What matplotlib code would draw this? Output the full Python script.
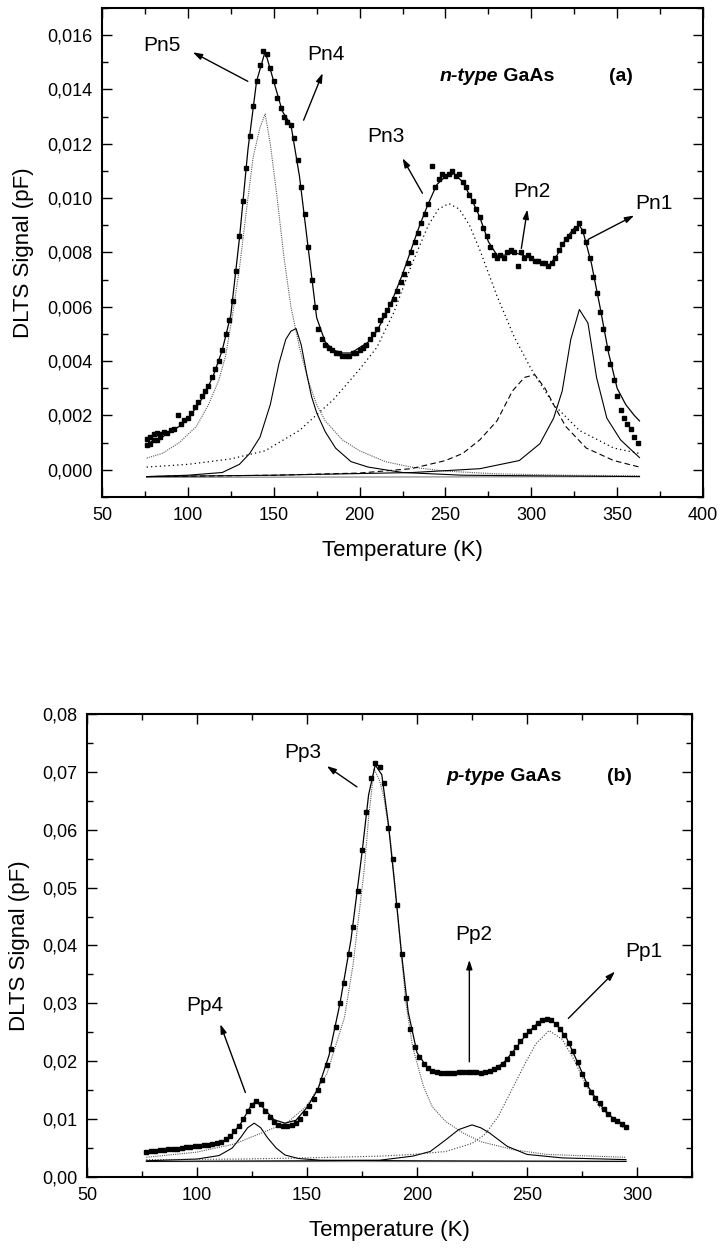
import numpy as np
import matplotlib
matplotlib.use("Agg")
import matplotlib.pyplot as plt
from matplotlib.ticker import MultipleLocator, FuncFormatter

plt.rcParams['font.family'] = ['Liberation Sans', 'DejaVu Sans']

# ---------------- (a) n-type GaAs ----------------
# measured DLTS spectrum (squares)
t_n = [76, 78, 80, 82, 84, 86, 88, 90, 92, 94, 96, 98, 100, 102, 104, 106, 108, 110,
       112, 114, 116, 118, 120, 122, 124, 126, 128, 130, 132, 134, 136, 138, 140, 142,
       144, 146, 148, 150, 152, 154, 156, 158, 160, 162, 164, 166, 168, 170, 172, 174,
       176, 178, 180, 182, 184, 186, 188, 190, 192, 194, 196, 198, 200, 202, 204, 206,
       208, 210, 212, 214, 216, 218, 220, 222, 224, 226, 228, 230, 232, 234, 236, 238,
       240, 242, 244, 246, 248, 250, 252, 254, 256, 258, 260, 262, 264, 266, 268, 270,
       272, 274, 276, 278, 280, 282, 284, 286, 288, 290, 292, 294, 296, 298, 300, 302,
       304, 306, 308, 310, 312, 314, 316, 318, 320, 322, 324, 326, 328, 330, 332, 334,
       336, 338, 340, 342, 344, 346, 348, 350, 352, 354, 356, 358, 360, 362]
s_n = [0.00115, 0.0012, 0.0013, 0.00135, 0.0013, 0.0014, 0.00135, 0.00145, 0.0015, 0.0020,
       0.0017, 0.00185, 0.0019, 0.0021, 0.0023, 0.0025, 0.0027, 0.0029, 0.0031, 0.0034,
       0.0037, 0.0040, 0.0044, 0.0050, 0.0055, 0.0062, 0.0073, 0.0086, 0.0099, 0.0111,
       0.0123, 0.0134, 0.0143, 0.0149, 0.0154, 0.0153, 0.0148, 0.0143, 0.0137, 0.0133,
       0.0130, 0.0128, 0.0127, 0.0122, 0.0114, 0.0104, 0.0094, 0.0082, 0.0070, 0.0060,
       0.0052, 0.0048, 0.0046, 0.0045, 0.0044, 0.0043, 0.0043, 0.0042, 0.0042, 0.0042,
       0.0043, 0.0043, 0.0044, 0.0045, 0.0046, 0.0048, 0.0050, 0.0052, 0.0055, 0.0057,
       0.0059, 0.0061, 0.0063, 0.0066, 0.0069, 0.0072, 0.0076, 0.0080, 0.0084, 0.0087,
       0.0091, 0.0094, 0.0098, 0.0112, 0.0104, 0.0107, 0.0109, 0.0108, 0.0109, 0.0110,
       0.0108, 0.0109, 0.0106, 0.0104, 0.0101, 0.0099, 0.0096, 0.0093, 0.0089, 0.0086,
       0.0082, 0.0079, 0.0078, 0.0079, 0.0078, 0.0080, 0.0081, 0.0080, 0.0075, 0.0080,
       0.0078, 0.0079, 0.0078, 0.0077, 0.0077, 0.0076, 0.0076, 0.0075, 0.0076, 0.0078,
       0.0081, 0.0083, 0.0085, 0.0086, 0.0088, 0.0089, 0.0091, 0.0088, 0.0084, 0.0078,
       0.0071, 0.0065, 0.0058, 0.0052, 0.0045, 0.0039, 0.0033, 0.0027, 0.0022, 0.0019,
       0.0017, 0.0015, 0.0012, 0.0010]
# second scan at low temperature (lower row of points)
t_n2 = [76, 78, 80, 82, 84]
s_n2 = [0.0009, 0.00095, 0.0011, 0.0011, 0.0012]

# total fit
t_nfit = [76, 80, 85, 90, 95, 100, 105, 110, 115, 120, 125, 130, 135, 140, 145, 150, 155,
          160, 165, 170, 175, 180, 185, 190, 195, 200, 205, 210, 215, 220, 225, 230, 235,
          240, 245, 250, 255, 260, 265, 270, 275, 280, 285, 290, 295, 300, 305, 310, 315,
          320, 325, 328, 330, 335, 340, 345, 350, 355, 360, 363]
s_nfit = [0.0009, 0.0011, 0.0012, 0.0014, 0.0016, 0.0019, 0.0023, 0.0028, 0.0035, 0.0044,
          0.0057, 0.0085, 0.0118, 0.0143, 0.0154, 0.0143, 0.0132, 0.0127, 0.0108, 0.0082,
          0.0056, 0.0047, 0.0044, 0.0043, 0.0043, 0.0045, 0.0047, 0.0051, 0.0057, 0.0064,
          0.0072, 0.0081, 0.0090, 0.0098, 0.0105, 0.0108, 0.0109, 0.0106, 0.0100, 0.0093,
          0.0084, 0.0079, 0.0079, 0.0080, 0.0079, 0.0078, 0.0076, 0.0075, 0.0079, 0.0085,
          0.0089, 0.0090, 0.0088, 0.0076, 0.0060, 0.0043, 0.0030, 0.0024, 0.0020, 0.0018]

# peak components
t_pn5 = [76, 85, 95, 105, 112, 118, 122, 126, 130, 134, 138, 142, 145, 148, 152, 156, 160,
         165, 170, 175, 180, 190, 200, 215, 230, 250, 280, 320, 363]
s_pn5 = [0.00043, 0.0006, 0.0010, 0.0016, 0.0024, 0.0033, 0.0042, 0.0057, 0.0074, 0.0095,
         0.0115, 0.0126, 0.0131, 0.0120, 0.0100, 0.0078, 0.0060, 0.0045, 0.0033, 0.0024,
         0.0018, 0.0011, 0.0007, 0.0003, 0.0001, -0.00005, -0.00015, -0.0002, -0.00022]
t_pn4 = [76, 100, 120, 130, 136, 142, 148, 153, 157, 160, 163, 166, 169, 172, 175, 180, 186,
         195, 205, 225, 260, 300, 363]
s_pn4 = [-0.00025, -0.0002, -0.0001, 0.0002, 0.0006, 0.0012, 0.0024, 0.0039, 0.0048, 0.0051,
         0.0052, 0.0046, 0.0036, 0.0027, 0.0021, 0.0014, 0.0008, 0.0003, 0.0001, -0.0001,
         -0.0002, -0.00022, -0.00025]
t_pn3 = [76, 100, 125, 145, 165, 185, 200, 210, 220, 230, 240, 246, 252, 258, 264, 270, 280,
         290, 300, 313, 328, 348, 363]
s_pn3 = [0.0001, 0.0002, 0.0004, 0.0007, 0.00145, 0.0026, 0.0037, 0.0045, 0.0058, 0.0075,
         0.0090, 0.0096, 0.0098, 0.0096, 0.0090, 0.0081, 0.0064, 0.0049, 0.0037, 0.0024,
         0.00145, 0.0008, 0.0006]
t_pn2 = [76, 150, 200, 230, 250, 260, 270, 280, 289, 296, 302, 308, 313, 320, 332, 348, 363]
s_pn2 = [-0.00025, -0.0002, -0.00012, 0.00004, 0.00034, 0.0006, 0.0011, 0.0018, 0.0029,
         0.0034, 0.0035, 0.0030, 0.0024, 0.0016, 0.0008, 0.00034, 0.0001]
t_pn1 = [76, 150, 231, 270, 293, 305, 313, 318, 323, 328, 333, 338, 344, 352, 363]
s_pn1 = [-0.00025, -0.0002, -0.0001, 0.00004, 0.00034, 0.00096, 0.0019, 0.0029, 0.0048,
         0.0059, 0.0054, 0.0034, 0.0019, 0.0011, 0.00045]
t_nbase = [76, 363]
s_nbase = [-0.00028, -0.00025]

# labels: name, text position, arrow tail, arrow head
lab_n = ["Pn5", "Pn4", "Pn3", "Pn2", "Pn1"]
lab_n_txt = [(85, 0.01563), (180.2, 0.0153), (215.1, 0.01228), (300.6, 0.01025), (371.5, 0.0098)]
lab_n_tail = [(134.9, 0.0143), (167.4, 0.01287), (236.6, 0.01018), (294.2, 0.00815), (333.1, 0.00848)]
lab_n_head = [(102.9, 0.01537), (178.5, 0.0146), (225, 0.01147), (297.7, 0.00958), (359.9, 0.00936)]

# ---------------- (b) p-type GaAs ----------------
t_p = [77, 79, 81, 83, 85, 87, 89, 91, 93, 95, 97, 99, 101, 103, 105, 107, 109, 111, 113,
       115, 117, 119, 121, 123, 125, 127, 129, 131, 133, 135, 137, 139, 141, 143, 145, 147,
       149, 151, 153, 155, 157, 159, 161, 163, 165, 167, 169, 171, 173, 175, 177, 179, 181,
       183, 185, 187, 189, 191, 193, 195, 197, 199, 201, 203, 205, 207, 209, 211, 213, 215,
       217, 219, 221, 223, 225, 227, 229, 231, 233, 235, 237, 239, 241, 243, 245, 247, 249,
       251, 253, 255, 257, 259, 261, 263, 265, 267, 269, 271, 273, 275, 277, 279, 281, 283,
       285, 287, 289, 291, 293, 295]
s_p = [0.0044, 0.0045, 0.0045, 0.0046, 0.0047, 0.0048, 0.0048, 0.0049, 0.0050, 0.0051,
       0.0052, 0.0053, 0.0054, 0.0055, 0.0056, 0.0057, 0.0059, 0.0061, 0.0065, 0.0071,
       0.0079, 0.0088, 0.0100, 0.0114, 0.0125, 0.0131, 0.0126, 0.0114, 0.0103, 0.0095,
       0.0090, 0.0088, 0.0088, 0.0090, 0.0094, 0.0101, 0.0110, 0.0122, 0.0135, 0.0150,
       0.0168, 0.0193, 0.0222, 0.0260, 0.0300, 0.0335, 0.0385, 0.0432, 0.0495, 0.0565,
       0.0630, 0.0690, 0.0715, 0.0708, 0.0680, 0.0603, 0.0550, 0.0470, 0.0385, 0.0310,
       0.0255, 0.0225, 0.0208, 0.0196, 0.0188, 0.0183, 0.0181, 0.0180, 0.0179, 0.0179,
       0.0180, 0.0181, 0.0182, 0.0182, 0.0181, 0.0181, 0.0180, 0.0181, 0.0183, 0.0186,
       0.0190, 0.0196, 0.0204, 0.0214, 0.0224, 0.0235, 0.0245, 0.0253, 0.0260, 0.0266,
       0.0271, 0.0273, 0.0271, 0.0265, 0.0256, 0.0245, 0.0232, 0.0218, 0.0198, 0.0178,
       0.0161, 0.0147, 0.0136, 0.0127, 0.0118, 0.0109, 0.0101, 0.0096, 0.0091, 0.0087]

t_pfit = [77, 90, 100, 110, 115, 120, 125, 127, 130, 135, 140, 145, 150, 155, 160, 165, 170,
          175, 178, 181, 184, 187, 190, 193, 196, 200, 205, 210, 215, 220, 225, 230, 235,
          240, 245, 250, 255, 259, 263, 268, 273, 278, 283, 288, 295]
s_pfit = [0.0040, 0.0046, 0.0051, 0.0058, 0.0069, 0.0093, 0.0126, 0.0130, 0.0120, 0.0099,
          0.0093, 0.0098, 0.0120, 0.0152, 0.0210, 0.0300, 0.0410, 0.0560, 0.0660, 0.0712,
          0.0695, 0.0610, 0.0500, 0.0385, 0.0285, 0.0215, 0.0187, 0.0177, 0.0176, 0.0181,
          0.0182, 0.0180, 0.0185, 0.0200, 0.0223, 0.0248, 0.0266, 0.0272, 0.0266, 0.0240,
          0.0198, 0.0155, 0.0126, 0.0105, 0.0088]

t_pp4 = [77, 100, 110, 116, 120, 123, 126, 129, 132, 136, 140, 146, 156, 200, 295]
s_pp4 = [0.0028, 0.0031, 0.0037, 0.0050, 0.0069, 0.0085, 0.0093, 0.0085, 0.0068, 0.0050,
         0.0038, 0.0032, 0.0029, 0.0028, 0.0027]
t_pp3 = [77, 100, 117, 130, 141, 150, 159, 167, 171, 176, 178, 180.5, 183, 185, 188, 190,
         192.5, 195, 198, 203, 207, 213, 221, 229, 244, 259, 295]
s_pp3 = [0.0034, 0.0043, 0.0057, 0.0077, 0.0094, 0.0123, 0.0178, 0.0275, 0.0368, 0.0530,
         0.0620, 0.0705, 0.0685, 0.0655, 0.0580, 0.0505, 0.0400, 0.0300, 0.0225, 0.0156,
         0.0121, 0.0096, 0.0076, 0.0061, 0.0047, 0.0039, 0.0034]
t_pp2 = [77, 150, 183, 198, 206, 213, 219, 225, 229, 233, 241, 250, 266, 295]
s_pp2 = [0.0027, 0.0028, 0.0029, 0.0036, 0.0044, 0.0064, 0.0082, 0.0090, 0.0085, 0.0076,
         0.0053, 0.0039, 0.0033, 0.0030]
t_pp1 = [77, 120, 150, 183, 198, 213, 225, 231, 237, 243, 249, 254, 260, 266, 271, 277, 283,
         289, 295]
s_pp1 = [0.0030, 0.0031, 0.0033, 0.0036, 0.0039, 0.0044, 0.0058, 0.0074, 0.0105, 0.0150,
         0.0195, 0.0230, 0.0253, 0.0238, 0.0205, 0.0158, 0.0121, 0.0101, 0.0081]
t_pbase = [77, 295]
s_pbase = [0.0027, 0.0027]

lab_p = ["Pp4", "Pp3", "Pp2", "Pp1"]
lab_p_txt = [(103.4, 0.0297), (148, 0.0734), (225.9, 0.0419), (303, 0.0389)]
lab_p_tail = [(122, 0.0146), (172.7, 0.0674), (223.8, 0.0199), (268.8, 0.0274)]
lab_p_head = [(110.6, 0.0264), (159, 0.0710), (223.8, 0.0375), (290, 0.0355)]


def comma_fmt(ndec):
    return FuncFormatter(lambda v, pos: ("%.*f" % (ndec, v)).replace(".", ","))


def style_axes(ax, xmaj, xmin, ymaj, ymin, ndec):
    ax.xaxis.set_major_locator(MultipleLocator(xmaj))
    ax.xaxis.set_minor_locator(MultipleLocator(xmin))
    ax.yaxis.set_major_locator(MultipleLocator(ymaj))
    ax.yaxis.set_minor_locator(MultipleLocator(ymin))
    ax.yaxis.set_major_formatter(comma_fmt(ndec))
    ax.tick_params(which="both", direction="in", top=True, right=True, width=1.0)
    ax.tick_params(which="major", length=7, labelsize=13, pad=7)
    ax.tick_params(which="minor", length=4)
    for sp in ax.spines.values():
        sp.set_linewidth(1.5)
    ax.set_xlabel("Temperature (K)", fontsize=16, labelpad=12)
    ax.set_ylabel("DLTS Signal (pF)", fontsize=16, labelpad=9)


def add_labels(ax, names, txt, tail, head):
    for name, p, a, b in zip(names, txt, tail, head):
        ax.text(p[0], p[1], name, fontsize=15, ha="center", va="center")
        ax.annotate("", xy=b, xytext=a,
                    arrowprops=dict(arrowstyle="-|>,head_length=0.55,head_width=0.18",
                                    color="black", lw=1.0, shrinkA=0, shrinkB=0))


def add_title(ax, x, y, kind, tag):
    t1 = ax.text(x, y, kind, fontsize=14, fontweight="bold", fontstyle="italic",
                 va="baseline", ha="left")
    ax.annotate(" GaAs", xy=(1, 0), xycoords=t1, fontsize=14, fontweight="bold",
                va="bottom", ha="left")
    ax.text(tag, y, tag_txt[kind], fontsize=14, fontweight="bold", va="baseline", ha="left")


tag_txt = {"n-type": "(a)", "p-type": "(b)"}

fig = plt.figure(figsize=(7.2, 12.48), dpi=100)

# Top panel
ax1 = fig.add_axes([0.1417, 0.6018, 0.8347, 0.3918])
ax1.plot(t_nbase, s_nbase, color="0.55", lw=0.9)
ax1.plot(t_pn5, s_pn5, color="0.35", lw=0.8, linestyle=(0, (1, 1)))
ax1.plot(t_pn4, s_pn4, color="black", lw=0.8)
ax1.plot(t_pn3, s_pn3, color="black", lw=0.9, linestyle=(0, (1, 2.5)))
ax1.plot(t_pn2, s_pn2, color="black", lw=0.8, linestyle=(0, (5, 3)))
ax1.plot(t_pn1, s_pn1, color="black", lw=0.8)
ax1.plot(t_nfit, s_nfit, color="black", lw=0.9)
ax1.plot(t_n, s_n, "s", color="black", markersize=3.2)
ax1.plot(t_n2, s_n2, "s", color="black", markersize=3.2)
ax1.set_xlim(50, 400)
ax1.set_ylim(-0.001, 0.017)
style_axes(ax1, 50, 25, 0.002, 0.001, 3)
add_labels(ax1, lab_n, lab_n_txt, lab_n_tail, lab_n_head)
add_title(ax1, 246.5, 0.0143, "n-type", 345.3)

# Bottom panel
ax2 = fig.add_axes([0.1208, 0.0569, 0.8403, 0.3710])
ax2.plot(t_pbase, s_pbase, color="0.55", lw=0.9)
ax2.plot(t_pp4, s_pp4, color="black", lw=0.8)
ax2.plot(t_pp3, s_pp3, color="0.35", lw=0.8, linestyle=(0, (1, 1)))
ax2.plot(t_pp2, s_pp2, color="black", lw=0.8)
ax2.plot(t_pp1, s_pp1, color="0.25", lw=0.8, linestyle=(0, (1, 1.5)))
ax2.plot(t_pfit, s_pfit, color="black", lw=0.9)
ax2.plot(t_p, s_p, "s", color="black", markersize=3.2)
ax2.set_xlim(50, 325)
ax2.set_ylim(0, 0.08)
style_axes(ax2, 50, 25, 0.01, 0.005, 2)
add_labels(ax2, lab_p, lab_p_txt, lab_p_tail, lab_p_head)
add_title(ax2, 213.6, 0.0684, "p-type", 286.4)

plt.savefig("out.png", dpi=100)
